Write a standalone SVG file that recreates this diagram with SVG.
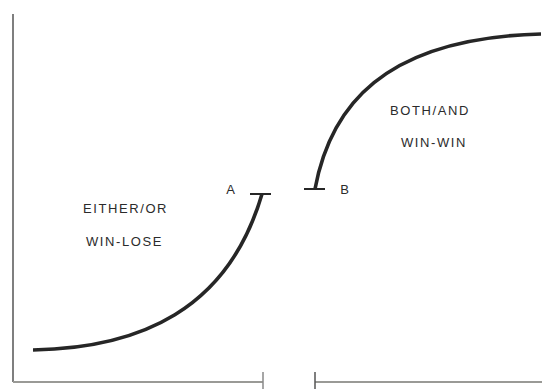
<svg xmlns="http://www.w3.org/2000/svg" width="552" height="389" viewBox="0 0 552 389">
<style>
.lbl{font-family:"Liberation Sans","DejaVu Sans",sans-serif;font-size:13px;fill:#2b2b2b;letter-spacing:1.6px;text-anchor:middle}
.pt{font-family:"Liberation Sans","DejaVu Sans",sans-serif;font-size:13px;fill:#2b2b2b;text-anchor:middle}
.curve{fill:none;stroke:#262626;stroke-width:3.6;stroke-linecap:butt}
.bar{stroke:#262626;stroke-width:2}
.axis{stroke:#9a9a96;stroke-width:2;fill:none}
</style>
<rect width="552" height="389" fill="#ffffff"/>
<g id="axes">
  <line x1="13" y1="14" x2="13" y2="382" stroke="#555" stroke-width="1.5"/>
  <line class="axis" x1="13" y1="382" x2="263" y2="382"/>
  <line x1="263" y1="372" x2="263" y2="389" stroke="#888" stroke-width="1.5"/>
  <line class="axis" x1="315" y1="382" x2="542" y2="382"/>
  <line x1="315" y1="372" x2="315" y2="389" stroke="#555" stroke-width="1.5"/>
</g>
<g id="connectors">
  <path id="curve-a" class="curve" d="M33,350 C140,348 228,310 262,194"/>
  <path id="curve-b" class="curve" d="M315,189 C330,108 382,38 541,34"/>
</g>
<g id="node-a">
  <line class="bar" x1="250" y1="194" x2="271" y2="194"/>
  <text class="pt" x="230.5" y="194">A</text>
</g>
<g id="node-b">
  <line class="bar" x1="304" y1="189" x2="325" y2="189"/>
  <text class="pt" x="344.5" y="194">B</text>
</g>
<g id="label-either">
  <text class="lbl" x="125.5" y="213">EITHER/OR</text>
  <text class="lbl" x="124.5" y="246">WIN-LOSE</text>
</g>
<g id="label-both">
  <text class="lbl" x="430" y="115">BOTH/AND</text>
  <text class="lbl" x="434" y="147">WIN-WIN</text>
</g>
</svg>
